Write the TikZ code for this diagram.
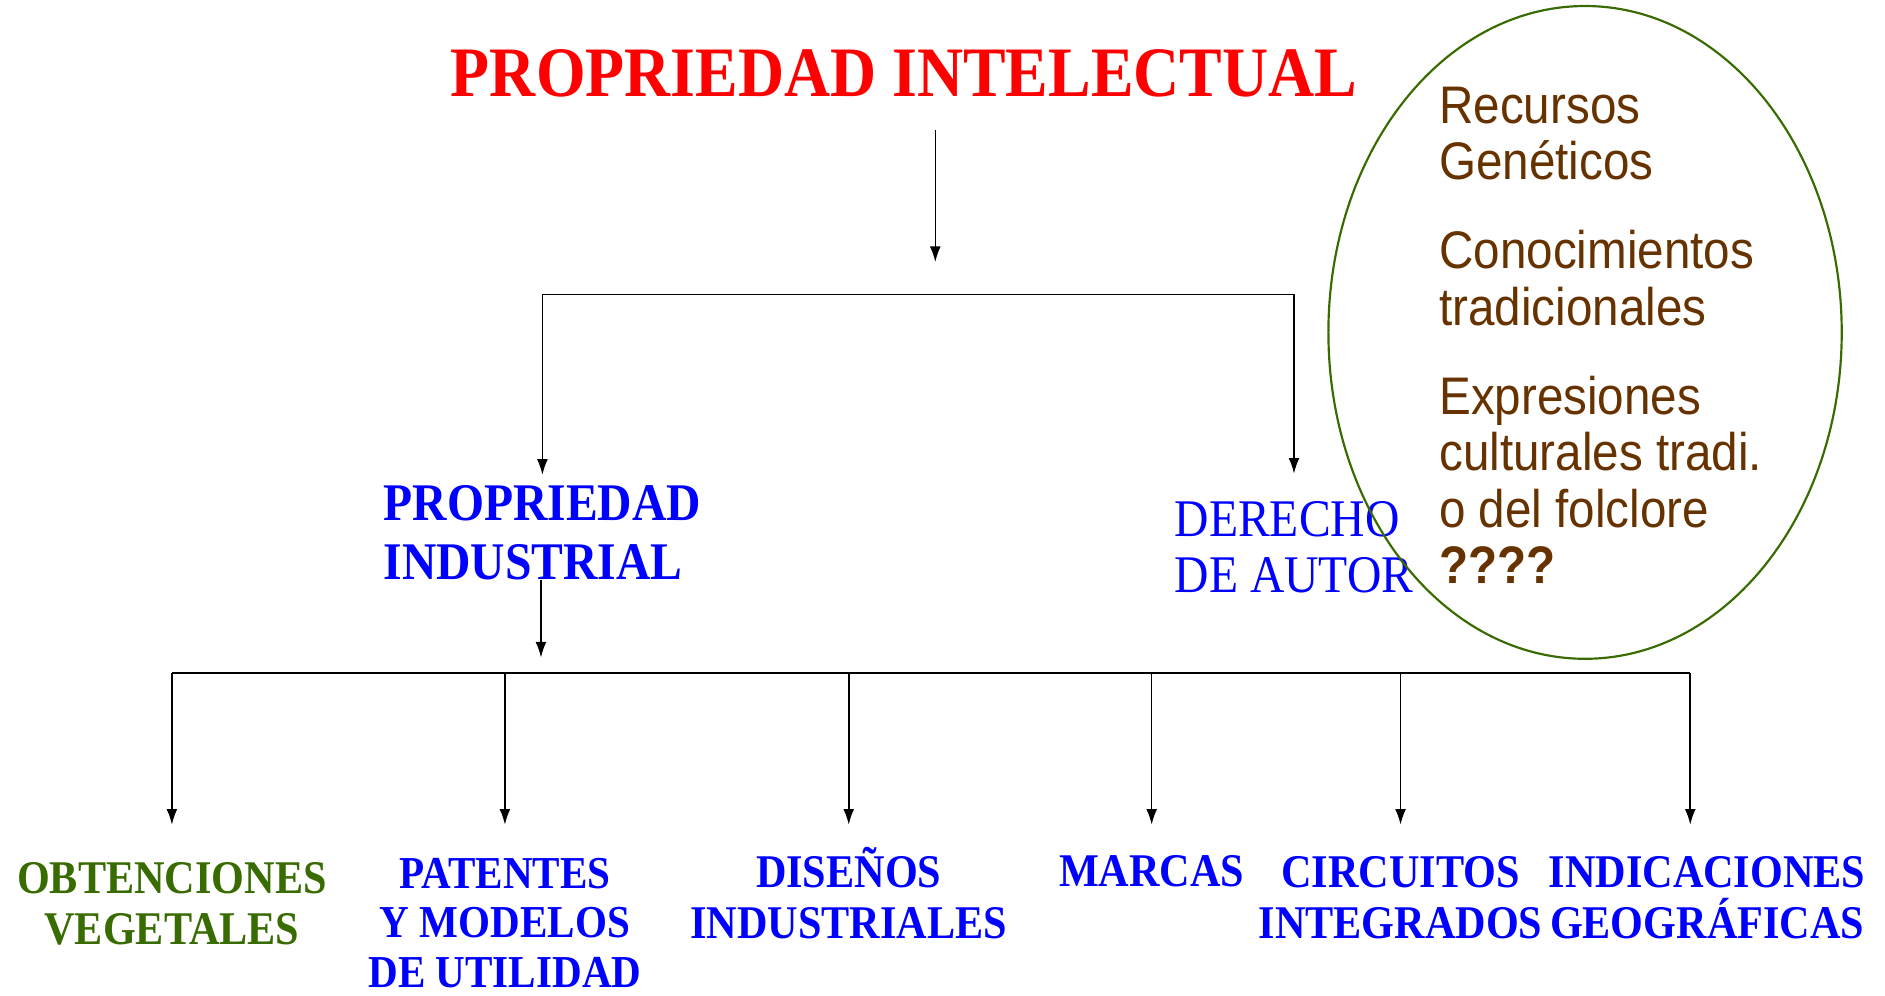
\documentclass[tikz,border=0pt]{standalone}
\usepackage{fontspec}
\setmainfont{Liberation Serif}[FakeStretch=0.9]
\newfontfamily\notefont{Liberation Sans}[FakeStretch=0.9]
\usetikzlibrary{arrows.meta}
\usetikzlibrary{positioning}
\definecolor{mred}{rgb}{1, 0, 0}
\definecolor{mblue}{rgb}{0, 0, 1}
\definecolor{mgreen}{rgb}{0.22, 0.42, 0}
\definecolor{mbrown}{rgb}{0.4, 0.2, 0}
\newcommand{\liftby}[1]{\rule{0pt}{#1}}

\tikzset{
  arr/.style={line width=1.3pt, -{Latex[length=13pt, width=9pt]}},
  bar/.style={line width=1.3pt},
  titlebox/.style={font=\fontsize{59}{64}\selectfont\bfseries, text=mred, inner sep=0pt},
  branch/.style={align=left, anchor=north west, inner sep=0pt, text=mblue},
  leaf/.style={font=\fontsize{39}{42.5}\selectfont\bfseries, text=mblue, align=center,
    anchor=north, inner sep=0pt},
  notes/.style={font=\notefont\fontsize{44}{47}\selectfont, text=mbrown, align=left,
    anchor=north west, inner sep=0pt}
}

\begin{document}
\begin{tikzpicture}[x=1pt, y=-1pt]
    \useasboundingbox (0, 0) rectangle (1568, 828);

    % top level
    \node [titlebox] (intel) at (752, 61) {PROPRIEDAD INTELECTUAL};
    \coordinate (split) at (778, 218);
    \coordinate (fork) at (778, 245);
    \draw [arr] (intel.south -| split) ++(0, 27) -- (split);

    % second level
    \node [branch, font=\fontsize{44}{49}\selectfont\bfseries] (indus) at (319, 395)
      {\liftby{38pt}PROPRIEDAD\\INDUSTRIAL};
    \node [branch, font=\fontsize{44}{47}\selectfont] (autor) at (977, 394)
      {\liftby{52pt}DERECHO\\DE AUTOR};
    \draw [arr] (fork) -| (indus.north);
    \draw [arr] (fork) -| (autor.north);

    % ellipse with the open questions
    \draw [mgreen, line width=1.8pt] (1318.5, 276.5) ellipse [x radius=213.5, y radius=271.5];
    \node [notes] (extra) at (1197, 72)
      {Recursos\\Genéticos\\[27pt]Conocimientos\\tradicionales\\[27pt]Expresiones\\culturales tradi.\\o del folclore\\\textbf{????}};

    % third level
    \coordinate (split2) at (450, 547);
    \coordinate (rail) at (778, 560);
    \draw [arr] (indus.south -| split2) -- (split2);

    \node [leaf, text=mgreen] (obten) at (143, 686) {\liftby{57pt}OBTENCIONES\\VEGETALES};
    \node [leaf, font=\fontsize{38}{41}\selectfont\bfseries] (paten) at (420, 686)
      {\liftby{53pt}PATENTES\\Y MODELOS\\DE UTILIDAD};
    \node [leaf] (disen) at (706, 686) {\liftby{52pt}DISEÑOS\\INDUSTRIALES};
    \node [leaf] (marca) at (958, 686) {\liftby{51pt}MARCAS};
    \node [leaf] (circu) at (1165, 686) {\liftby{52pt}CIRCUITOS\\INTEGRADOS};
    \node [leaf] (geogr) at (1420, 686) {\liftby{52pt}INDICACIONES\\GEOGRÁFICAS};
    \coordinate (geotop) at ([xshift=-14pt]geogr.north);

    \draw [bar] (rail -| obten.north) -- (rail -| geotop);
    \draw [arr] (rail -| obten.north) -- (obten.north);
    \draw [arr] (rail -| paten.north) -- (paten.north);
    \draw [arr] (rail -| disen.north) -- (disen.north);
    \draw [arr] (rail -| marca.north) -- (marca.north);
    \draw [arr] (rail -| circu.north) -- (circu.north);
    \draw [arr] (rail -| geotop) -- (geotop);
  \end{tikzpicture}
\end{document}
